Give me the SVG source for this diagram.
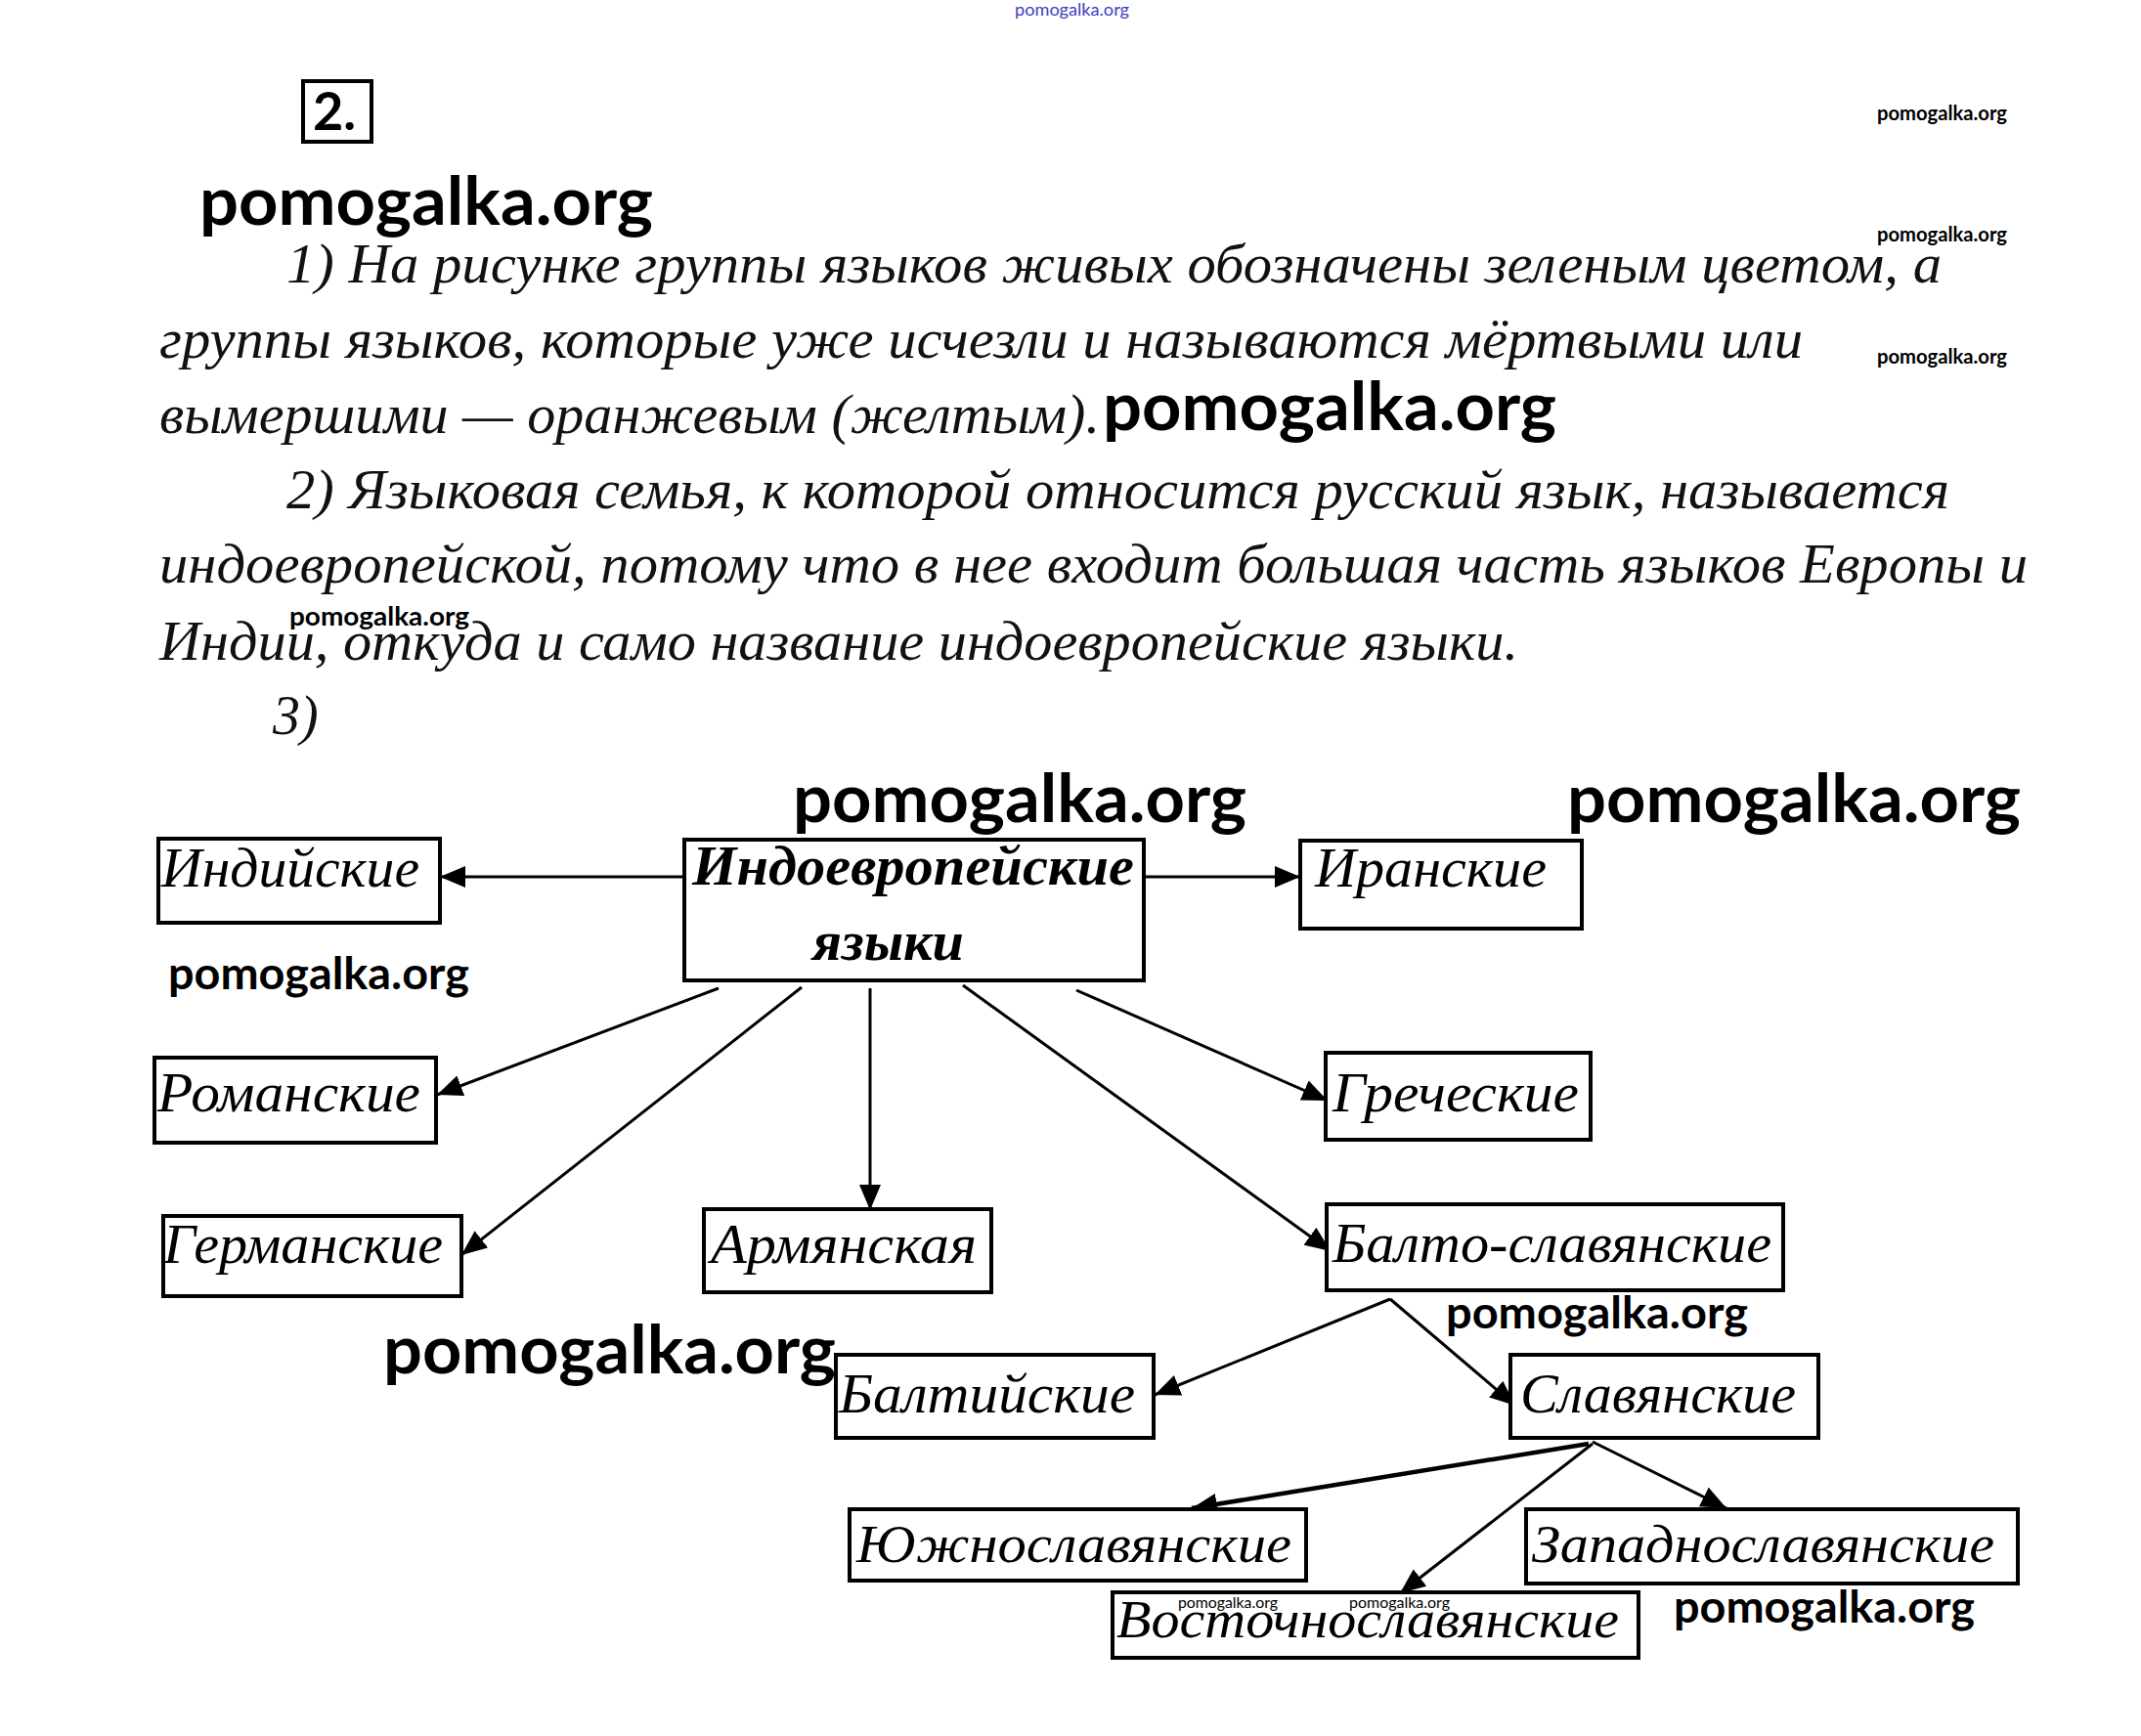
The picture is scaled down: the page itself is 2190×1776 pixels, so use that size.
<svg xmlns="http://www.w3.org/2000/svg" width="2190" height="1776" viewBox="0 0 2190 1776">
<style>
.box{fill:#fff;stroke:#000;stroke-width:4}
.lbl{font-family:"Liberation Serif","Times New Roman",serif;font-style:italic;fill:#000}
.para{font-family:"Liberation Serif","Times New Roman",serif;font-style:italic;font-size:56px;fill:#111}
.wm{font-family:Lato,"Liberation Sans",sans-serif;font-weight:bold;fill:#000}
.edge{stroke:#000;stroke-width:3;fill:none;marker-end:url(#arr)}
</style>
<defs>
<marker id="arr" markerUnits="userSpaceOnUse" markerWidth="26" markerHeight="22" refX="26" refY="11" orient="auto">
<path d="M0,0 L26,11 L0,22 Z" fill="#000"/>
</marker>
</defs>
<rect width="2190" height="1776" fill="#fff"/>

<text x="1038" y="16" font-family="Lato,'Liberation Sans',sans-serif" font-size="17" fill="#4040c0" textLength="117" lengthAdjust="spacingAndGlyphs">pomogalka.org</text>

<g id="num">
<rect x="310" y="83" width="70" height="62" fill="none" stroke="#000" stroke-width="4"/>
<text x="320" y="133" font-family="Lato,'Liberation Sans',sans-serif" font-weight="bold" font-size="54">2.</text>
</g>

<g id="paragraph">
<text class="para" x="293" y="289" textLength="1693" lengthAdjust="spacingAndGlyphs">1) На рисунке группы языков живых обозначены зеленым цветом, а</text>
<text class="para" x="163" y="366" textLength="1681" lengthAdjust="spacingAndGlyphs">группы языков, которые уже исчезли и называются мёртвыми или</text>
<text class="para" x="163" y="443" textLength="962" lengthAdjust="spacingAndGlyphs">вымершими — оранжевым (желтым).</text>
<text class="para" x="293" y="520" textLength="1701" lengthAdjust="spacingAndGlyphs">2) Языковая семья, к которой относится русский язык, называется</text>
<text class="para" x="163" y="596" textLength="1911" lengthAdjust="spacingAndGlyphs">индоевропейской, потому что в нее входит большая часть языков Европы и</text>
<text class="para" x="163" y="675" textLength="1390" lengthAdjust="spacingAndGlyphs">Индии, откуда и само название индоевропейские языки.</text>
<text class="para" x="279" y="751">3)</text>
</g>

<g id="watermarks">
<text class="wm" x="204" y="230" font-size="68" textLength="464" lengthAdjust="spacingAndGlyphs">pomogalka.org</text>
<text class="wm" x="1128" y="440" font-size="68" textLength="464" lengthAdjust="spacingAndGlyphs">pomogalka.org</text>
<text class="wm" x="811" y="841" font-size="68" textLength="464" lengthAdjust="spacingAndGlyphs">pomogalka.org</text>
<text class="wm" x="1603" y="841" font-size="68" textLength="464" lengthAdjust="spacingAndGlyphs">pomogalka.org</text>
<text class="wm" x="392" y="1405" font-size="68" textLength="463" lengthAdjust="spacingAndGlyphs">pomogalka.org</text>
<text class="wm" x="172" y="1012" font-size="46" textLength="308" lengthAdjust="spacingAndGlyphs">pomogalka.org</text>
<text class="wm" x="1479" y="1359" font-size="46" textLength="309" lengthAdjust="spacingAndGlyphs">pomogalka.org</text>
<text class="wm" x="1712" y="1660" font-size="46" textLength="308" lengthAdjust="spacingAndGlyphs">pomogalka.org</text>
<text class="wm" x="1920" y="123" font-size="20" textLength="133" lengthAdjust="spacingAndGlyphs">pomogalka.org</text>
<text class="wm" x="1920" y="247" font-size="20" textLength="133" lengthAdjust="spacingAndGlyphs">pomogalka.org</text>
<text class="wm" x="1920" y="372" font-size="20" textLength="133" lengthAdjust="spacingAndGlyphs">pomogalka.org</text>
<text class="wm" x="296" y="640" font-size="27" textLength="184" lengthAdjust="spacingAndGlyphs">pomogalka.org</text>
</g>

<g id="connectors">
<path class="edge" d="M700,897 L450,897"/>
<path class="edge" d="M1170,897 L1330,897"/>
<path class="edge" d="M735,1011 L447,1120"/>
<path class="edge" d="M820,1010 L472,1284"/>
<path class="edge" d="M890,1011 L890,1238"/>
<path class="edge" d="M1101,1013 L1358,1126"/>
<path class="edge" d="M985,1008 L1361,1280"/>
<path class="edge" d="M1422,1329 L1181,1427"/>
<path class="edge" d="M1422,1329 L1550,1438"/>
<path class="edge" d="M1625,1477 L1219,1543" style="stroke-width:4.5"/>
<path class="edge" d="M1629,1477 L1432,1630"/>
<path class="edge" d="M1629,1475 L1766,1543"/>
</g>

<g id="n-indoeur">
<rect class="box" x="700" y="859" width="470" height="144"/>
<text class="lbl" x="708" y="905" font-size="58" font-weight="bold" textLength="452" lengthAdjust="spacingAndGlyphs">Индоевропейские</text>
<text class="lbl" x="831" y="982" font-size="58" font-weight="bold" textLength="155" lengthAdjust="spacingAndGlyphs">языки</text>
</g>
<g id="n-indian">
<rect class="box" x="162" y="858" width="288" height="86"/>
<text class="lbl" x="165" y="907" font-size="58" textLength="264" lengthAdjust="spacingAndGlyphs">Индийские</text>
</g>
<g id="n-iranian">
<rect class="box" x="1330" y="860" width="288" height="90"/>
<text class="lbl" x="1345" y="907" font-size="58" textLength="237" lengthAdjust="spacingAndGlyphs">Иранские</text>
</g>
<g id="n-romance">
<rect class="box" x="158" y="1082" width="288" height="87"/>
<text class="lbl" x="161" y="1137" font-size="58" textLength="269" lengthAdjust="spacingAndGlyphs">Романские</text>
</g>
<g id="n-germanic">
<rect class="box" x="167" y="1244" width="305" height="82"/>
<text class="lbl" x="167" y="1292" font-size="58" textLength="286" lengthAdjust="spacingAndGlyphs">Германские</text>
</g>
<g id="n-armenian">
<rect class="box" x="720" y="1237" width="294" height="85"/>
<text class="lbl" x="727" y="1292" font-size="58" textLength="272" lengthAdjust="spacingAndGlyphs">Армянская</text>
</g>
<g id="n-greek">
<rect class="box" x="1356" y="1077" width="271" height="89"/>
<text class="lbl" x="1363" y="1137" font-size="58" textLength="252" lengthAdjust="spacingAndGlyphs">Греческие</text>
</g>
<g id="n-baltoslavic">
<rect class="box" x="1357" y="1232" width="467" height="88"/>
<text class="lbl" x="1363" y="1291" font-size="56" textLength="449" lengthAdjust="spacingAndGlyphs">Балто-славянские</text>
</g>
<g id="n-baltic">
<rect class="box" x="855" y="1386" width="325" height="85"/>
<text class="lbl" x="858" y="1445" font-size="56" textLength="303" lengthAdjust="spacingAndGlyphs">Балтийские</text>
</g>
<g id="n-slavic">
<rect class="box" x="1545" y="1386" width="315" height="85"/>
<text class="lbl" x="1555" y="1445" font-size="56" textLength="282" lengthAdjust="spacingAndGlyphs">Славянские</text>
</g>
<g id="n-southslavic">
<rect class="box" x="869" y="1544" width="467" height="73"/>
<text class="lbl" x="876" y="1598" font-size="54" textLength="445" lengthAdjust="spacingAndGlyphs">Южнославянские</text>
</g>
<g id="n-westslavic">
<rect class="box" x="1561" y="1544" width="503" height="76"/>
<text class="lbl" x="1567" y="1598" font-size="54" textLength="473" lengthAdjust="spacingAndGlyphs">Западнославянские</text>
</g>
<g id="n-eastslavic">
<rect class="box" x="1138" y="1629" width="538" height="67"/>
<text class="lbl" x="1142" y="1675" font-size="54" textLength="514" lengthAdjust="spacingAndGlyphs">Восточнославянские</text>
<text x="1205" y="1645" font-family="Lato,'Liberation Sans',sans-serif" font-size="15" textLength="102" lengthAdjust="spacingAndGlyphs">pomogalka.org</text>
<text x="1380" y="1645" font-family="Lato,'Liberation Sans',sans-serif" font-size="15" textLength="103" lengthAdjust="spacingAndGlyphs">pomogalka.org</text>
</g>
</svg>
